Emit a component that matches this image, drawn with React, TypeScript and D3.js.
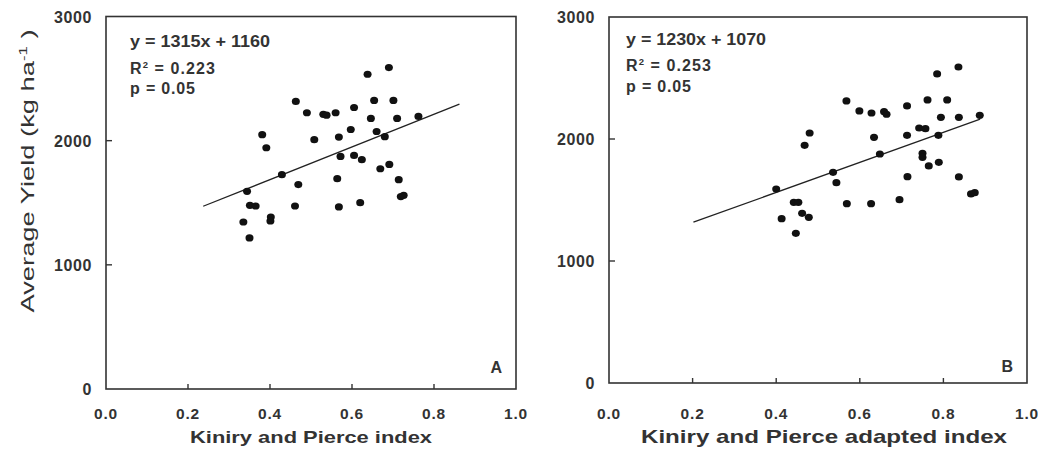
import React from "react";
import * as d3 from "d3";

// Panel A: Kiniry and Pierce index vs average yield
const kpIndex = [
  0.69, 0.638, 0.463, 0.654, 0.701, 0.49, 0.53, 0.538, 0.56, 0.605, 0.646,
  0.71, 0.762, 0.381, 0.391, 0.508, 0.568, 0.597, 0.66, 0.68, 0.572, 0.605,
  0.624, 0.669, 0.691, 0.429, 0.469, 0.564, 0.714, 0.344, 0.719, 0.726, 0.351,
  0.365, 0.461, 0.568, 0.62, 0.335, 0.402, 0.401, 0.35,
];
const yieldA = [
  2589, 2535, 2316, 2324, 2324, 2225, 2212, 2205, 2225, 2267, 2179, 2179, 2195,
  2048, 1943, 2008, 2029, 2090, 2074, 2032, 1873, 1881, 1847, 1774, 1809, 1726,
  1646, 1694, 1686, 1592, 1550, 1560, 1479, 1474, 1474, 1466, 1501, 1345, 1385,
  1353, 1217,
];

// Panel B: Kiniry and Pierce adapted index vs average yield
const kpaIndex = [
  0.836, 0.785, 0.568, 0.599, 0.628, 0.658, 0.664, 0.713, 0.762, 0.809, 0.794,
  0.837, 0.887, 0.48, 0.468, 0.634, 0.713, 0.742, 0.757, 0.788, 0.648, 0.75,
  0.75, 0.765, 0.789, 0.536, 0.544, 0.714, 0.837, 0.4, 0.866, 0.875, 0.442,
  0.453, 0.569, 0.627, 0.695, 0.413, 0.462, 0.478, 0.447,
];
const yieldB = [
  2590, 2533, 2312, 2230, 2213, 2224, 2203, 2271, 2320, 2320, 2178, 2178, 2194,
  2049, 1948, 2014, 2030, 2090, 2085, 2030, 1877, 1883, 1850, 1779, 1809, 1727,
  1642, 1691, 1689, 1590, 1550, 1560, 1481, 1481, 1470, 1470, 1503, 1347, 1391,
  1358, 1227,
];

// fitted lines: slope, intercept, x extent
const fitA = { slope: 1315, intercept: 1160, from: 0.237, to: 0.862 };
const fitB = { slope: 1230, intercept: 1070, from: 0.202, to: 0.888 };

const statsA = ["y = 1315x + 1160", "0.223", "p = 0.05"];
const statsB = ["y = 1230x + 1070", "0.253", "p = 0.05"];

const xTicks = [0, 0.2, 0.4, 0.6, 0.8, 1.0];
const yTicks = [0, 1000, 2000, 3000];

const FONT = "'Liberation Sans', Arial, sans-serif";
const INK = "#333";

const Panel = ({ xs, ys, fit, stats, box, letter, title, titleSize, titleLen, textY }) => {
  const x = d3.scaleLinear().domain([0, 1]).range([box.left, box.right]);
  const y = d3.scaleLinear().domain([0, 3000]).range([box.bottom, box.top]);

  const line = d3
    .line<number>()
    .x((d) => x(d))
    .y((d) => y(fit.slope * d + fit.intercept));

  const textX = box.left + box.textDx;

  return (
    <g>
      {/* frame */}
      <rect
        x={box.left}
        y={box.top}
        width={box.right - box.left}
        height={box.bottom - box.top}
        fill="none"
        stroke={INK}
        strokeWidth={1.6}
      />
      {/* inward ticks */}
      {yTicks.slice(1, -1).map((t) => (
        <line key={"yt" + t} x1={box.left} x2={box.left + 6} y1={y(t)} y2={y(t)} stroke={INK} strokeWidth={1.4} />
      ))}
      {xTicks.slice(1, -1).map((t) => (
        <line key={"xt" + t} x1={x(t)} x2={x(t)} y1={box.bottom} y2={box.bottom - 5} stroke={INK} strokeWidth={1.4} />
      ))}
      {/* tick labels */}
      {yTicks.map((t) => (
        <text
          key={"yl" + t}
          x={box.left - 14}
          y={y(t) + 6}
          textAnchor="end"
          fontFamily={FONT}
          fontWeight="bold"
          fontSize={16}
          letterSpacing={0.6}
          fill={INK}
        >
          {t}
        </text>
      ))}
      {xTicks.map((t) => (
        <text
          key={"xl" + t}
          x={x(t)}
          y={419}
          textAnchor="middle"
          fontFamily={FONT}
          fontWeight="bold"
          fontSize={15.5}
          letterSpacing={0.8}
          fill={INK}
        >
          {t.toFixed(1)}
        </text>
      ))}
      {/* x title */}
      <text
        x={(box.left + box.right) / 2 + box.titleDx}
        y={443}
        textAnchor="middle"
        fontFamily={FONT}
        fontWeight="bold"
        fontSize={titleSize}
        textLength={titleLen}
        lengthAdjust="spacingAndGlyphs"
        fill={INK}
      >
        {title}
      </text>
      {/* regression line */}
      <path d={line([fit.from, fit.to]) || ""} fill="none" stroke="#222" strokeWidth={1.3} />
      {/* points */}
      {xs.map((v, i) => (
        <ellipse key={i} cx={x(v)} cy={y(ys[i])} rx={4} ry={3.6} fill="#111" />
      ))}
      {/* stats */}
      <g fontFamily={FONT} fontWeight="bold" fontSize={16} fill={INK}>
        <text x={textX} y={textY[0]} textLength={140} lengthAdjust="spacingAndGlyphs">
          {stats[0]}
        </text>
        <text x={textX} y={textY[1]} textLength={85} lengthAdjust="spacing">
          R<tspan fontSize={9.5} dy={-6}>2</tspan>
          <tspan dy={6}> = {stats[1]}</tspan>
        </text>
        <text x={textX} y={textY[2]} textLength={65} lengthAdjust="spacing">
          {stats[2]}
        </text>
      </g>
      <text
        x={box.right - 14}
        y={box.bottom - box.letterDy}
        textAnchor="end"
        fontFamily={FONT}
        fontWeight="bold"
        fontSize={16}
        fill={INK}
      >
        {letter}
      </text>
    </g>
  );
};

export default function App() {
  const boxA = { left: 106, right: 516, top: 16.5, bottom: 389, textDx: 24, titleDx: 0, letterDy: 16 };
  const boxB = { left: 609, right: 1027, top: 17, bottom: 383, textDx: 17, titleDx: 6, letterDy: 11 };
  return (
    <svg
      width={1038}
      height={450}
      style={{ position: "absolute", left: 0, top: 0, background: "#fff" }}
    >
      <text
        transform="translate(34,171) rotate(-90)"
        textAnchor="middle"
        fontFamily={FONT}
        fontSize={18}
        textLength={283}
        lengthAdjust="spacingAndGlyphs"
        fill={INK}
      >
        Average Yield (kg ha<tspan fontSize={11} dy={-7}>-1</tspan>
        <tspan dy={7}> )</tspan>
      </text>
      <Panel
        xs={kpIndex}
        ys={yieldA}
        fit={fitA}
        stats={statsA}
        box={boxA}
        letter="A"
        title="Kiniry and Pierce index"
        titleSize={16.5}
        titleLen={242}
        textY={[46.5, 73.5, 94]}
      />
      <Panel
        xs={kpaIndex}
        ys={yieldB}
        fit={fitB}
        stats={statsB}
        box={boxB}
        letter="B"
        title="Kiniry and Pierce adapted index"
        titleSize={19}
        titleLen={366}
        textY={[45, 70.5, 91.5]}
      />
    </svg>
  );
}
